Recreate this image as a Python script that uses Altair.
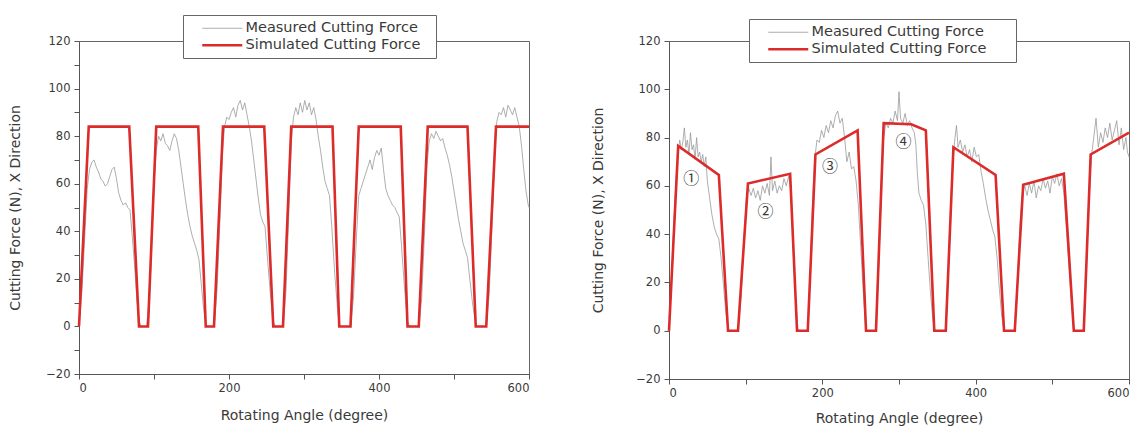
import altair as alt
import pandas as pd

MEAS = "Measured Cutting Force"
SIM = "Simulated Cutting Force"

# ---------------- left panel ----------------
left_sim_angle = [0, 13, 67, 80, 92, 103, 159, 169, 180, 192, 247, 259, 272, 283, 338, 347,
                  362, 373, 429, 438, 453, 465, 518, 529, 543, 556, 600]
left_sim_force = [0, 84, 84, 0, 0, 84, 84, 0, 0, 84, 84, 0, 0, 84, 84, 0,
                  0, 84, 84, 0, 0, 84, 84, 0, 0, 84, 84]

left_meas_angle = [0, 4, 8, 11, 14, 17, 20, 23, 26, 29, 32, 35, 38, 41, 44, 47, 50, 53, 56, 59, 62, 65, 68, 71, 74, 77, 80, 83,
                   90, 94, 97, 100, 103, 106, 109, 112, 115, 118, 121, 124, 127, 130, 133, 136, 139, 142, 145, 148, 151, 154, 157, 160, 163, 166, 169, 172,
                   180, 184, 188, 191, 194, 197, 200, 203, 206, 209, 212, 215, 218, 221, 224, 227, 230, 233, 236, 239, 242, 245, 248, 251, 255, 259, 262,
                   272, 276, 280, 283, 286, 289, 292, 295, 298, 301, 304, 307, 310, 313, 316, 319, 322, 325, 328, 331, 334, 337, 341, 345, 348,
                   362, 366, 370, 373, 376, 379, 382, 385, 388, 391, 394, 397, 400, 403, 406, 409, 412, 415, 418, 421, 424, 427, 430, 434, 438, 441,
                   453, 457, 461, 464, 467, 470, 473, 476, 479, 482, 485, 488, 491, 494, 497, 500, 503, 506, 509, 512, 515, 518, 521, 525, 529, 532,
                   543, 547, 551, 554, 557, 560, 563, 566, 569, 572, 575, 578, 581, 584, 587, 590, 593, 596, 599, 600]
left_meas_force = [0, 15, 40, 58, 66, 69, 70, 67, 65, 62, 61, 59, 60, 63, 66, 67, 62, 56, 53, 51, 52, 50, 49, 38, 26, 12, 2, 0,
                   0, 12, 35, 60, 74, 80, 78, 81, 77, 76, 74, 78, 81, 79, 74, 67, 60, 53, 47, 42, 38, 35, 32, 28, 18, 8, 1, 0,
                   0, 15, 45, 72, 84, 88, 87, 90, 92, 88, 93, 95, 91, 94, 89, 84, 78, 70, 62, 54, 47, 44, 42, 30, 14, 2, 0,
                   0, 15, 50, 78, 88, 92, 89, 94, 90, 95, 91, 94, 89, 92, 87, 80, 74, 67, 61, 58, 55, 42, 22, 6, 0,
                   0, 12, 38, 55, 58, 61, 64, 67, 70, 66, 71, 74, 72, 75, 66, 58, 55, 53, 51, 50, 48, 46, 34, 16, 2, 0,
                   0, 12, 42, 68, 78, 81, 79, 82, 80, 78, 79, 75, 72, 68, 63, 57, 51, 45, 40, 35, 32, 29, 20, 9, 1, 0,
                   0, 14, 45, 72, 86, 90, 89, 92, 88, 93, 91, 89, 92, 88, 84, 76, 66, 57, 51, 50]

# ---------------- right panel ----------------
right_sim_angle = [0, 12, 65, 77, 90, 103, 158, 167, 181, 191, 246, 257, 270, 280, 316, 335, 346,
                   361, 371, 426, 437, 451, 462, 515, 528, 541, 550, 600]
right_sim_force = [0, 76.5, 64.5, 0, 0, 61, 65, 0, 0, 73, 83, 0, 0, 86, 85.5, 83, 0,
                   0, 76, 64.5, 0, 0, 60.5, 65, 0, 0, 73, 82]

right_meas_angle = [0, 3, 6, 9, 12, 14, 16, 18, 20, 22, 24, 26, 28, 30, 32, 34, 36, 38, 40, 42, 44, 46, 48, 50, 53, 56, 59, 62, 65, 68, 71, 74, 77, 79,
                    90, 94, 98, 101, 104, 107, 110, 113, 116, 119, 122, 125, 128, 131, 133, 135, 138, 141, 144, 147, 150, 153, 156, 159, 162, 165, 168, 170,
                    181, 184, 187, 190, 193, 196, 199, 202, 205, 208, 211, 214, 217, 220, 223, 226, 229, 232, 235, 238, 241, 244, 247, 250, 253, 256, 258,
                    270, 273, 277, 280, 283, 286, 289, 292, 295, 298, 300, 302, 305, 308, 311, 314, 317, 320, 322, 324, 326, 329, 332, 335, 338, 341, 344, 347,
                    361, 364, 368, 371, 373, 375, 377, 380, 383, 386, 389, 392, 395, 398, 401, 404, 407, 410, 413, 416, 419, 422, 425, 428, 431, 434, 437,
                    451, 454, 458, 461, 464, 467, 470, 473, 476, 479, 482, 485, 488, 491, 494, 497, 500, 503, 506, 509, 512, 515, 518, 522, 525, 528, 530,
                    541, 544, 548, 551, 554, 557, 560, 563, 566, 569, 572, 575, 578, 581, 584, 587, 590, 593, 596, 598, 600]
right_meas_force = [0, 18, 42, 62, 74, 79, 75, 78, 84, 76, 79, 73, 82, 75, 77, 71, 80, 72, 74, 70, 73, 68, 72, 62, 55, 48, 43, 40, 38, 30, 19, 8, 1, 0,
                    0, 14, 38, 55, 59, 56, 59, 55, 58, 54, 60, 57, 61, 56, 72, 58, 62, 57, 60, 58, 63, 60, 64, 58, 36, 14, 1, 0,
                    0, 22, 52, 71, 79, 78, 83, 80, 85, 82, 87, 84, 89, 91, 86, 88, 80, 70, 74, 67, 68, 62, 52, 35, 18, 4, 0,
                    0, 22, 58, 80, 86, 84, 88, 86, 91, 87, 99, 88, 86, 90, 85, 87, 84, 82, 77, 65, 57, 54, 52, 44, 30, 16, 5, 0,
                    0, 22, 55, 72, 80, 85, 76, 79, 74, 77, 72, 75, 70, 76, 72, 73, 66, 61, 55, 50, 46, 42, 39, 30, 17, 6, 0,
                    0, 16, 45, 57, 60, 56, 61, 57, 62, 55, 60, 58, 63, 59, 62, 57, 64, 61, 65, 60, 63, 57, 44, 26, 11, 1, 0,
                    0, 22, 56, 72, 80, 88, 76, 82, 78, 84, 80, 86, 79, 83, 87, 77, 84, 75, 80, 74, 72]

ann_angle = [29, 126, 210, 306]
ann_force = [63, 49, 68, 78]
ann_label = ["①", "②", "③", "④"]

x_ticks = [0, 100, 200, 300, 400, 500, 600]
y_ticks = [-20, -10, 0, 10, 20, 30, 40, 50, 60, 70, 80, 90, 100, 110, 120]

FONT = "DejaVu Sans"
TEXT = "#3a3a3a"
NBSP = "\u00a0"
ZWSP = "\u200b"


def panel_df(ma, mf, sa, sf):
    rows = [{"angle": a, "force": f, "series": MEAS, "idx": i} for i, (a, f) in enumerate(zip(ma, mf))]
    rows += [{"angle": a, "force": f, "series": SIM, "idx": i} for i, (a, f) in enumerate(zip(sa, sf))]
    return pd.DataFrame(rows)


def make_panel(df, w, h, lx, ly, ytp, xtp, pad_spaces, ann=None):
    leg = alt.Legend(title=None, orient="none", legendX=lx, legendY=ly, direction="vertical",
                     strokeColor="#666666", fillColor="white", padding=6,
                     symbolType="M-4,0H4", symbolSize=100, symbolOffset=26,
                     labelFont=FONT, labelFontSize=14.5, labelLimit=400,
                     labelColor=TEXT, labelOffset=16, rowPadding=2,
                     labelExpr="datum.label + '" + NBSP * pad_spaces + ZWSP + "'")
    color = alt.Color("series:N", scale=alt.Scale(domain=[MEAS, SIM], range=["#999999", "#dc2b2b"]), legend=leg)
    sw = alt.StrokeWidth("series:N", scale=alt.Scale(domain=[MEAS, SIM], range=[0.8, 2.6]), legend=leg)
    x = alt.X("angle:Q", scale=alt.Scale(domain=[0, 600], nice=False),
              axis=alt.Axis(values=x_ticks, labelExpr="datum.value % 200 == 0 ? datum.label : ''",
                            title="Rotating Angle (degree)", titlePadding=xtp, labelPadding=3))
    y = alt.Y("force:Q", scale=alt.Scale(domain=[-20, 120], nice=False),
              axis=alt.Axis(values=y_ticks, labelExpr="datum.value % 20 == 0 ? datum.label : ''",
                            title="Cutting Force (N), X Direction", titlePadding=ytp, labelPadding=4))
    base = alt.Chart(df).encode(x=x, y=y, color=color, strokeWidth=sw, order="idx:Q")
    meas = base.transform_filter(alt.datum.series == MEAS).mark_line()
    sim = base.transform_filter(alt.datum.series == SIM).mark_line()
    layers = [meas, sim]
    if ann is not None:
        txt = alt.Chart(ann).mark_text(font="Noto Sans CJK JP", fontSize=16, color=TEXT).encode(
            x="angle:Q", y="force:Q", text="label:N")
        layers.append(txt)
    return alt.layer(*layers).properties(width=w, height=h)


left_df = panel_df(left_meas_angle, left_meas_force, left_sim_angle, left_sim_force)
right_df = panel_df(right_meas_angle, right_meas_force, right_sim_angle, right_sim_force)
ann_df = pd.DataFrame({"angle": ann_angle, "force": ann_force, "label": ann_label})

left = make_panel(left_df, 450, 333, 104, -26, 23, 15, 2)
right = make_panel(right_df, 460, 338, 80, -22, 30, 13, 5, ann=ann_df)

chart = alt.hconcat(left, right, spacing=140, bounds="flush").resolve_scale(
    color="independent", strokeWidth="independent"
).resolve_legend(
    color="independent", strokeWidth="independent"
).properties(
    padding={"left": 0, "top": 6, "right": 0, "bottom": 0}
).configure_view(stroke="#666666", strokeWidth=1).configure_axis(
    domainColor="#555555", tickColor="#555555", labelColor=TEXT, labelFont=FONT, labelFontSize=11.5,
    titleFont=FONT, titleFontSize=14, titleFontWeight="normal", titleColor=TEXT, grid=False, tickSize=5
)

chart.save("out.html", embed_options={"renderer": "svg", "actions": False})
